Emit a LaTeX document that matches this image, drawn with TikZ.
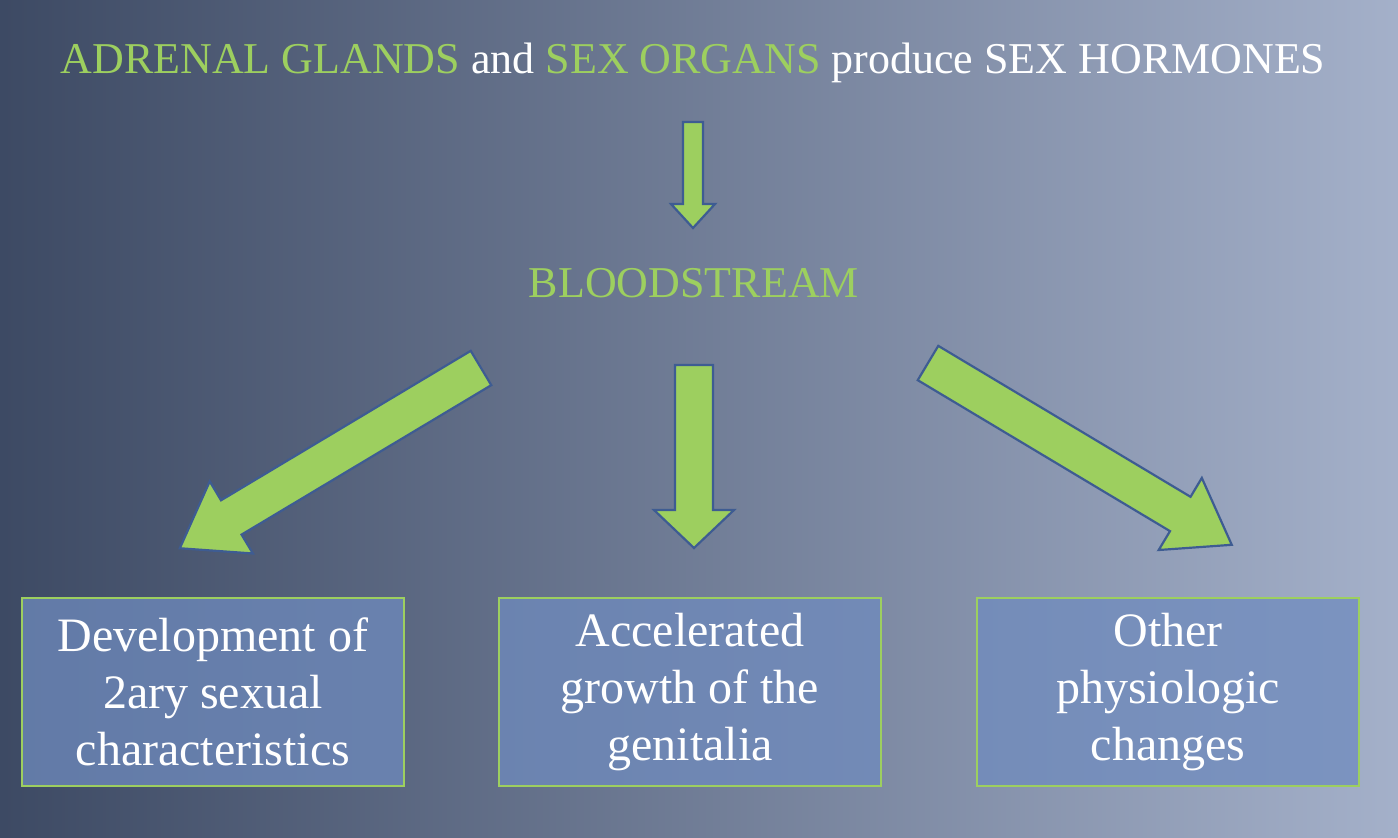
\documentclass[tikz,border=0pt]{standalone}
\usepackage{fontspec}
\setmainfont{Liberation Serif}
\definecolor{bgA}{HTML}{1E2B45}
\definecolor{bgB}{HTML}{C3CFE8}
\definecolor{grn}{HTML}{9DCF5F}
\definecolor{edg}{HTML}{3E5C92}
\definecolor{boxf}{HTML}{6F8BBE}
\newcommand{\blockarr}[7]{%
  \begin{scope}[shift={(#2,#3)},rotate=#4]
    \draw[arr] (0,-#6)--(#5-#7,-#6)--(#5-#7,-#6-#6-2)--(#5,0)--(#5-#7,#6+#6+2)--(#5-#7,#6)--(0,#6)--cycle;
    \coordinate (#1) at (#5,0);
  \end{scope}}
\begin{document}
\begin{tikzpicture}[x=1pt,y=-1pt,
  arr/.style={fill=grn,draw=edg,line width=2.2pt,line join=miter},
  box/.style={draw=grn,line width=2.5pt,fill=boxf,fill opacity=0.75,text opacity=1,text=white,
    minimum width=382pt,minimum height=188pt,align=center,font=\fontsize{48}{57}\selectfont},
  ttl/.style={font=\fontsize{44}{50}\selectfont}]
\useasboundingbox (0,0) rectangle (1398,838);
\begin{scope}
\clip (0,0) rectangle (1398,838);
\begin{scope}[shift={(699,419)},rotate=-31]
\shade[left color=bgA,right color=bgB] (-815,-815) rectangle (815,815);
\end{scope}
\end{scope}
\node[ttl,text=white] (top) at (693,63) {\textcolor{grn}{ADRENAL GLANDS} and \textcolor{grn}{SEX ORGANS} produce SEX HORMONES};
\node[ttl,text=grn] (blood) at (694,283) {BLOODSTREAM};
\blockarr{a0}{693}{122}{-90}{106}{10}{24}
\blockarr{a1}{694}{365}{-90}{183}{19}{38}
\blockarr{a2}{481}{368}{210.9}{351}{20}{60}
\blockarr{a3}{928}{363}{-30.9}{354}{20}{60}
\node[box] (b1) at (213,692) {Development of\\2ary sexual\\characteristics};
\node[box] (b2) at (690,692) {Accelerated\\growth of the\\genitalia};
\node[box] (b3) at (1168,692) {Other\\physiologic\\changes};
\end{tikzpicture}
\end{document}
